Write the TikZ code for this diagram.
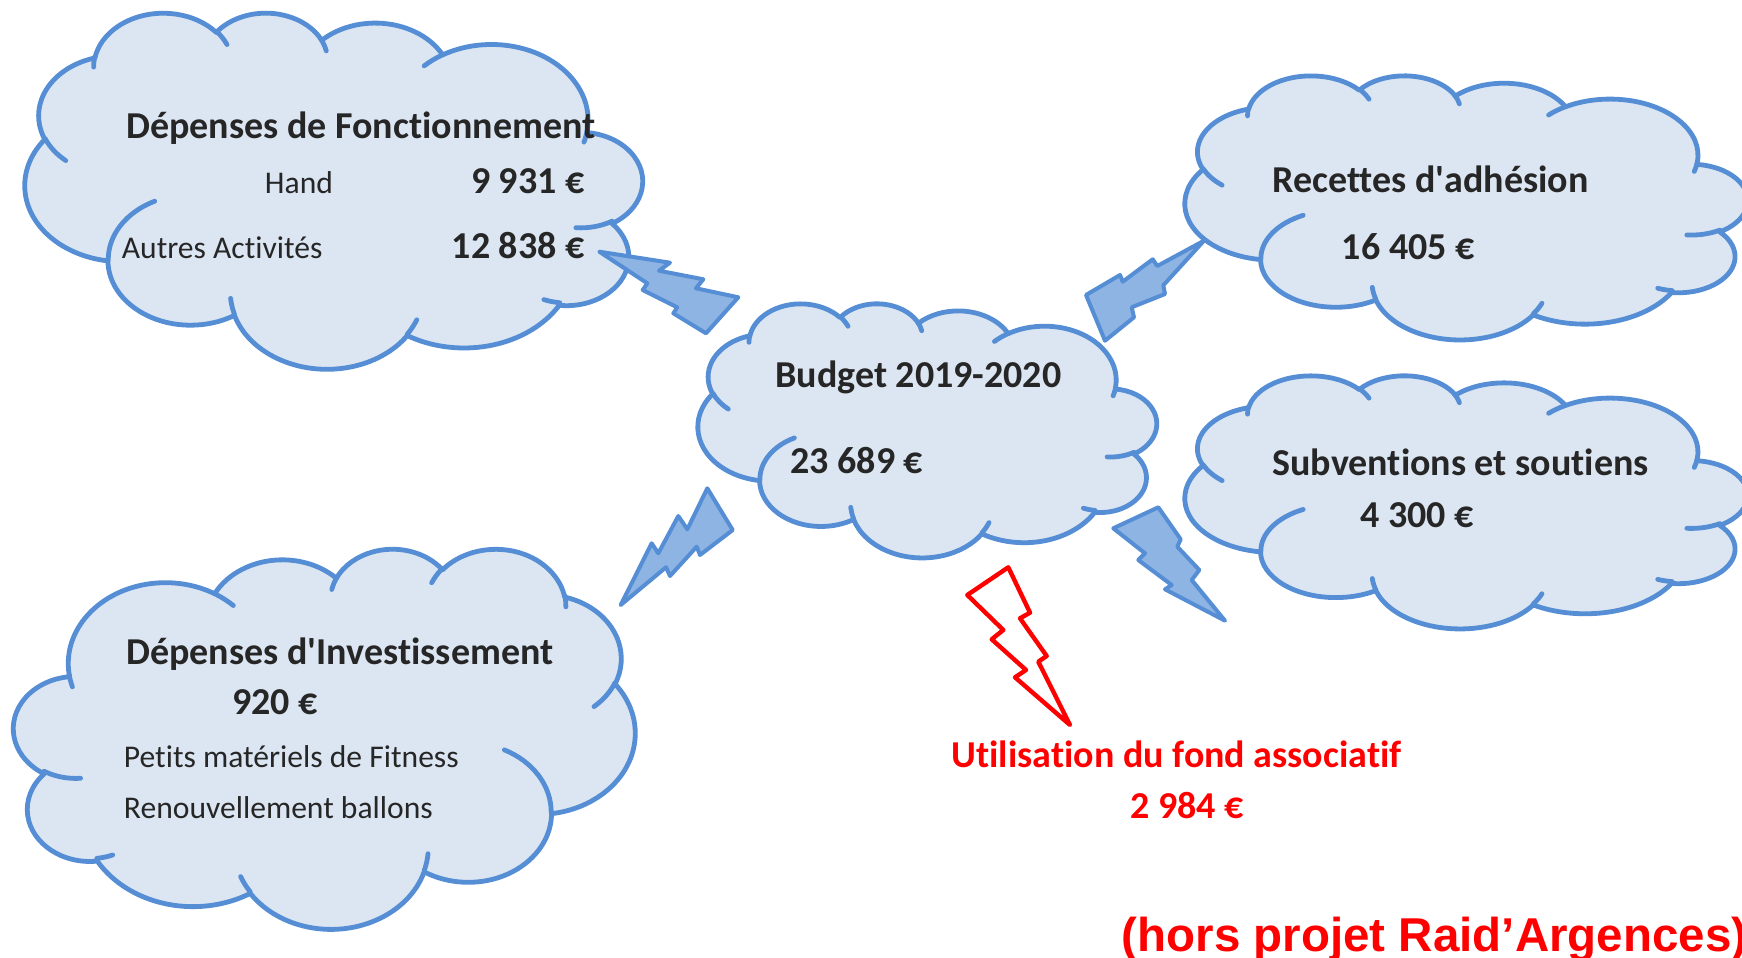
\documentclass[tikz,border=0pt]{standalone}
\usepackage{fontspec}
\setmainfont{Carlito}[Ligatures=NoCommon]
\newfontfamily\arialfam{Liberation Sans}
\definecolor{cloudline}{HTML}{558ED5}
\definecolor{cloudfill}{HTML}{DCE6F2}
\definecolor{boltfill}{HTML}{8EB4E3}
\definecolor{txtcol}{HTML}{262626}
\definecolor{redcol}{HTML}{FF0000}
\tikzset{
  cloudbody/.style={draw=cloudline, fill=cloudfill, line width=2.4pt, line join=round},
  cloudcurl/.style={draw=cloudline, line width=2.4pt, line cap=round},
  boltshape/.style={draw=cloudline, fill=boltfill, line width=2pt, line join=round},
  redbolt/.style={draw=redcol, line width=2.2pt, line join=round},
  lbltxt/.style={inner sep=0pt, text=txtcol, font=\fontsize{15.8}{18}\selectfont},
  boldtxt/.style={inner sep=0pt, text=txtcol, font=\fontsize{19}{22}\selectfont\bfseries},
  redlbl/.style={inner sep=0pt, text=redcol, font=\fontsize{19}{22}\selectfont\bfseries},
  notelbl/.style={inner sep=0pt, text=redcol, font=\arialfam\fontsize{23.75}{26}\selectfont\bfseries},
}
% OOXML-style arc: wR hR stAng swAng (geometric angles); \csa, \csb set the orientation
\newcommand\oarc[4]{arc[start angle={\csa*atan2(#1*sin(#3),#2*cos(#3))+\csb}, delta angle={\csa*mod(atan2(#1*sin(#3+#4),#2*cos(#3+#4))-atan2(#1*sin(#3),#2*cos(#3))+720,360)}, x radius={#1*\cux pt}, y radius={#2*\cuy pt}]}
% cloud: name, left, top, width, height (px), mirrored (1) or not (0)
\newcommand\cloudshape[6]{%
  \pgfmathsetmacro\cux{#4/43.2*0.5}%
  \pgfmathsetmacro\cuy{#5/43.2*0.5}%
  \ifnum#6=1 \def\csa{1}\def\csb{180}\def\cxs{-1}\def\cxo{#4}%
  \else \def\csa{-1}\def\csb{0}\def\cxs{1}\def\cxo{0}\fi
  \begin{scope}[shift={(#2+\cxo,#3)}, x={(\cxs*\cux pt,0pt)}, y={(0pt,-\cuy pt)}]
    \path[cloudbody] (3.9,14.37)
      \oarc{6.753}{9.190}{-190.48748}{123.78053}
      \oarc{5.333}{7.267}{-144.10238}{89.94523}
      \oarc{4.365}{5.945}{-145.80792}{99.72302}
      \oarc{4.857}{6.595}{-130.98607}{117.24173}
      \oarc{5.333}{7.273}{-78.70888}{109.02692}
      \oarc{6.775}{9.220}{-46.26725}{130.26900}
      \oarc{5.785}{7.867}{0.62502}{114.03333}
      \oarc{6.752}{9.215}{22.45160}{115.17255}
      \oarc{7.720}{10.543}{66.24263}{74.81873}
      \oarc{4.360}{5.918}{-274.94208}{146.73557}
      \oarc{4.345}{5.945}{-246.82850}{152.51885}
      -- cycle;
    \path[cloudcurl]
      (4.693,26.177) \oarc{4.345}{5.945}{86.7420}{26.4295}
      (6.928,34.899) \oarc{4.360}{5.918}{73.61047}{11.44747}
      (16.478,39.090) \oarc{6.752}{9.215}{137.62415}{14.08110}
      (28.827,34.751) \oarc{6.752}{9.215}{6.45327}{15.99835}
      (34.129,22.954) \oarc{5.785}{7.867}{-70.29235}{70.91737}
      (41.798,15.354) \oarc{5.333}{7.273}{30.31803}{27.75150}
      (38.324,5.426) \oarc{4.857}{6.595}{-13.74433}{14.8589}
      (29.078,3.952) \oarc{4.857}{6.595}{-149.18145}{18.19537}
      (22.141,4.720) \oarc{4.365}{5.945}{-163.49427}{17.68635}
      (14.000,5.192) \oarc{6.753}{9.190}{-66.70695}{12.31935}
      (4.127,15.789) \oarc{6.753}{9.190}{157.65435}{11.85393};
    \coordinate (#1) at (21.6,21.6);
  \end{scope}}
\begin{document}
\begin{tikzpicture}[x=0.5pt,y=-0.5pt]
  \fill[white] (0,0) rectangle (1742,958);
  \useasboundingbox (0,0) rectangle (1742,958);

  % clouds
  \cloudshape{fonct}{25}{12}{618}{356}{1}
  \cloudshape{budget}{698}{303}{459}{254}{1}
  \cloudshape{recettes}{1185}{75}{563}{264}{1}
  \cloudshape{subv}{1185}{375}{563}{253}{1}
  \cloudshape{invest}{13}{548}{622}{380}{0}

  % lightning bolts
  \draw[boltshape] (599.3,251.7) -- (670,262.7) -- (659,270.7) -- (703.3,279.3) -- (696,288.3)
    -- (738.3,297.3) -- (706,333.3) -- (673.3,313.3) -- (677.3,307.3) -- (642.7,290) -- (647.3,283.3) -- cycle;
  \draw[boltshape] (620.7,605) -- (651.7,543.3) -- (658.3,553.3) -- (678.3,516) -- (687.3,529.3)
    -- (707.3,488.3) -- (732.7,530) -- (700,555) -- (696.7,546.7) -- (670,576) -- (666,567.3) -- cycle;
  \draw[boltshape] (1204,240.7) -- (1157.3,266) -- (1152.7,259.3) -- (1122.7,281.7) -- (1120,275)
    -- (1086,295) -- (1105,340.7) -- (1134,317.3) -- (1131.7,307.3) -- (1165,294) -- (1163.3,285.3) -- cycle;
  \draw[boltshape] (1158.3,507.3) -- (1113.3,528.3) -- (1145,553.3) -- (1138.3,560) -- (1171.7,585)
    -- (1165,589.3) -- (1225,620.7) -- (1191.7,580) -- (1199.3,570) -- (1177.3,546.7) -- (1180.7,539.3) -- cycle;
  \draw[redbolt] (1008.3,567.3) -- (1030,612.7) -- (1020,618.3) -- (1046.7,656) -- (1038.3,661.7)
    -- (1070,725) -- (1015,677.3) -- (1026,670) -- (991.7,639.3) -- (1003.3,630) -- (967.3,595) -- cycle;

  % texts: Fonctionnement
  \node[boldtxt, anchor=base west] (f1) at (126,138) {Dépenses de Fonctionnement};
  \node[lbltxt, anchor=base] (f2) at (299,193) {Hand};
  \node[boldtxt, anchor=base east] (f3) at (585,193) {9 931 €};
  \node[lbltxt, anchor=base west] (f4) at (121.5,258) {Autres Activités};
  \node[boldtxt, anchor=base east] (f5) at (585,258) {12 838 €};

  % Budget
  \node[boldtxt, anchor=base west] (b1) at (775,387) {Budget 2019-2020};
  \node[boldtxt, anchor=base west] (b2) at (790,473) {23 689 €};

  % Recettes
  \node[boldtxt, anchor=base west] (r1) at (1272,192) {Recettes d\textquotesingle adhésion};
  \node[boldtxt, anchor=base west] (r2) at (1341.5,259) {16 405 €};

  % Subventions
  \node[boldtxt, anchor=base west] (s1) at (1272,475) {Subventions et soutiens};
  \node[boldtxt, anchor=base west] (s2) at (1360,527) {4 300 €};

  % Investissement
  \node[boldtxt, anchor=base west] (i1) at (126,664) {Dépenses d\textquotesingle Investissement};
  \node[boldtxt, anchor=base west] (i2) at (232,714) {920 €};
  \node[lbltxt, anchor=base west] (i3) at (123.5,767) {Petits matériels de Fitness};
  \node[lbltxt, anchor=base west] (i4) at (123.5,818) {Renouvellement ballons};

  % red texts
  \node[redlbl, anchor=base] (u1) at (1176.5,767) {Utilisation du fond associatif};
  \node[redlbl, anchor=base] (u2) at (1187,818) {2 984 €};
  \node[notelbl, anchor=base west] (n1) at (1121.5,951) {(hors projet Raid’Argences)};
\end{tikzpicture}
\end{document}
